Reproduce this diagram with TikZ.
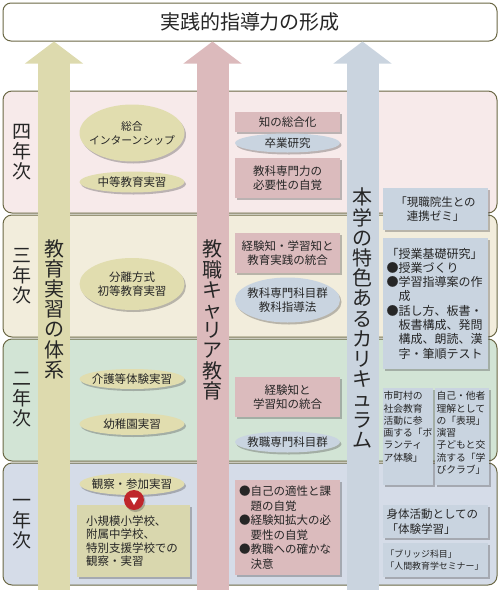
\documentclass[tikz,border=0pt]{standalone}
\usepackage{fontspec}
\setmainfont{Noto Sans CJK JP}
\usetikzlibrary{shapes.geometric,shadows,arrows.meta}

\definecolor{bandline}{HTML}{6B6845}
\definecolor{bandfour}{HTML}{F7EAEA}
\definecolor{bandthree}{HTML}{F2EDDC}
\definecolor{bandtwo}{HTML}{D2E4D5}
\definecolor{bandone}{HTML}{D5DCE8}
\definecolor{olivearr}{HTML}{DDDAAE}
\definecolor{pinkarr}{HTML}{DCBABC}
\definecolor{bluearr}{HTML}{CAD4DF}
\definecolor{olivefill}{HTML}{E1DDAF}
\definecolor{pinkfill}{HTML}{DBBBBD}
\definecolor{bluefill}{HTML}{C9D4E0}
\definecolor{olivebox}{HTML}{D9D7AE}
\definecolor{markred}{HTML}{BF262B}
\definecolor{ink}{HTML}{262626}

\newcommand\bodytext{\fontsize{11.5}{14.5}\selectfont}
\newcommand\smalltext{\fontsize{9.8}{12.3}\selectfont}
\newcommand\tinytext{\fontsize{8.9}{12}\selectfont}

\tikzset{
  boxshadow/.style={drop shadow={shadow xshift=1.5pt, shadow yshift=-2pt, opacity=.35, fill=black!70}},
  yearband/.style={rectangle, rounded corners=9pt, draw=bandline, line width=1pt, minimum width=494pt, minimum height=122pt},
  yearlabel/.style={align=center, text=ink, font=\fontsize{19}{20}\selectfont},
  arrowlabel/.style={align=center, text=ink, font=\fontsize{20}{20.2}\selectfont},
  bigarrow/.style={draw=#1, line width=32pt, -{Triangle[width=57pt,length=22pt]}},
  pill/.style={ellipse, minimum width=105pt, inner xsep=-12pt, inner ysep=-4pt, align=center, text=ink, boxshadow, font=\bodytext},
  plate/.style={rectangle, minimum width=105pt, inner sep=0pt, align=center, text=ink, boxshadow, font=\bodytext}
}

\begin{document}
\begin{tikzpicture}[x=1pt, y=-1pt]
    \useasboundingbox (0,0) rectangle (500,590);

    \node[rectangle, rounded corners=8pt, draw=bandline, line width=1pt, fill=white, minimum width=494pt, minimum height=38pt, text=ink, font=\fontsize{20}{22}\selectfont] (title) at (250,22) {実践的指導力の形成};

    \node[yearband, fill=bandfour] (band4) at (250,152) {};
    \node[yearband, fill=bandthree] (band3) at (250,276) {};
    \node[yearband, fill=bandtwo] (band2) at (250,400) {};
    \node[yearband, fill=bandone] (band1) at (250,524) {};

    \node[yearlabel] (year4) at (22,152) {四\\年\\次};
    \node[yearlabel] (year3) at (22,276) {三\\年\\次};
    \node[yearlabel] (year2) at (22,400) {二\\年\\次};
    \node[yearlabel] (year1) at (22,524) {一\\年\\次};

    \coordinate (olivefoot) at (54,590);
    \coordinate (pinkfoot) at (212.5,590);
    \coordinate (bluefoot) at (362.5,590);
    \draw[bigarrow=olivearr] (olivefoot) -- (olivefoot |- title.south);
    \draw[bigarrow=pinkarr] (pinkfoot) -- (pinkfoot |- title.south);
    \draw[bigarrow=bluearr] (bluefoot) -- (bluefoot |- title.south);

    \node[arrowlabel] (olivetext) at (54,309) {教\\育\\実\\習\\の\\体\\系};
    \node[arrowlabel] (pinktext) at (212.5,320) {教\\職\\キ\\ャ\\リ\\ア\\教\\育};
    \node[arrowlabel] (bluetext) at (362.5,318) {本\\学\\の\\特\\色\\あ\\る\\カ\\リ\\キ\\ュ\\ラ\\ム};

    \node[pill, fill=olivefill, minimum height=57pt, font=\fontsize{10.8}{14}\selectfont] (intern) at (132,133) {総合\\インターンシップ};
    \node[pill, fill=olivefill, minimum height=21pt] (chuto) at (132,182) {中等教育実習};
    \node[pill, fill=olivefill, minimum height=52pt] (bunri) at (132,284) {分離方式\\初等教育実習};
    \node[pill, fill=olivefill, minimum height=20pt] (kaigo) at (132,379) {介護等体験実習};
    \node[pill, fill=olivefill, minimum height=22pt] (yochien) at (132,424) {幼稚園実習};
    \node[plate, fill=olivebox, minimum width=113pt, minimum height=72pt, text width=95pt, align=left, font=\fontsize{11.5}{13.5}\selectfont] (visit) at (133.5,541) {小規模小学校、\\附属中学校、\\特別支援学校での\\観察・実習};
    \node[pill, fill=olivefill, minimum height=22pt] (kansatsu) at (132,484) {観察・参加実習};
    \node[circle, fill=markred, minimum size=20pt, inner sep=0pt, boxshadow] (mark) at (134,500) {};
    \node[regular polygon, regular polygon sides=3, shape border rotate=180, fill=white, minimum size=10pt, inner sep=0pt] (marktip) at (mark) {};

    \node[plate, fill=pinkfill, minimum height=20pt] (sogo) at (287.5,122) {知の総合化};
    \node[pill, fill=bluefill, minimum height=19pt] (sotsuken) at (287.5,143) {卒業研究};
    \node[plate, fill=pinkfill, minimum height=40pt] (senmon) at (287.5,178) {教科専門力の\\必要性の自覚};
    \node[plate, fill=pinkfill, minimum height=40pt] (togo) at (287.5,253) {経験知・学習知と\\教育実践の統合};
    \node[pill, fill=bluefill, minimum height=45pt] (kyokagun) at (287.5,300) {教科専門科目群\\教科指導法};
    \node[plate, fill=pinkfill, minimum height=40pt] (chitogo) at (287.5,397) {経験知と\\学習知の統合};
    \node[pill, fill=bluefill, minimum height=21pt] (kyoshoku) at (287.5,442) {教職専門科目群};
    \node[plate, fill=pinkfill, minimum height=95pt, text width=97pt, align=left] (jikaku) at (287.5,527.5) {●自己の適性と課\\\hspace*{1em}題の自覚\\●経験知拡大の必\\\hspace*{1em}要性の自覚\\●教職への確かな\\\hspace*{1em}決意};

    \node[plate, fill=bluefill, minimum height=42pt] (zemi) at (435.5,209) {「現職院生との\\連携ゼミ」};
    \node[plate, fill=bluefill, minimum height=131pt, text width=98pt, align=left, font=\fontsize{12}{14.3}\selectfont] (kiso) at (435.5,303.5) {「授業基礎研究」\\●授業づくり\\●学習指導案の作\\\hspace*{1em}成\\●話し方、板書・\\\hspace*{1em}板書構成、発問\\\hspace*{1em}構成、朗読、漢\\\hspace*{1em}字・筆順テスト};
    \node[plate, fill=bluefill, minimum width=50pt, minimum height=97pt, font=\smalltext] (volunteer) at (408,436.5) {\parbox[c][90pt][t]{49pt}{市町村の\\社会教育\\活動に参\\画する「ボ\\ランティ\\ア体験」}};
    \node[plate, fill=bluefill, minimum width=54pt, minimum height=97pt, font=\smalltext] (hyogen) at (462,436.5) {\parbox[c][90pt][t]{51pt}{自己・他者\\理解として\\の「表現」\\演習\\子どもと交\\流する「学\\びクラブ」}};
    \node[plate, fill=bluefill, minimum height=33pt, text width=98pt, align=left] (taiken) at (435.5,521.5) {身体活動としての\\「体験学習」};
    \node[plate, fill=bluefill, minimum height=34pt, text width=100pt, align=left, font=\tinytext] (bridge) at (435.5,560) {「ブリッジ科目」\\「人間教育学セミナー」};
\end{tikzpicture}
\end{document}
